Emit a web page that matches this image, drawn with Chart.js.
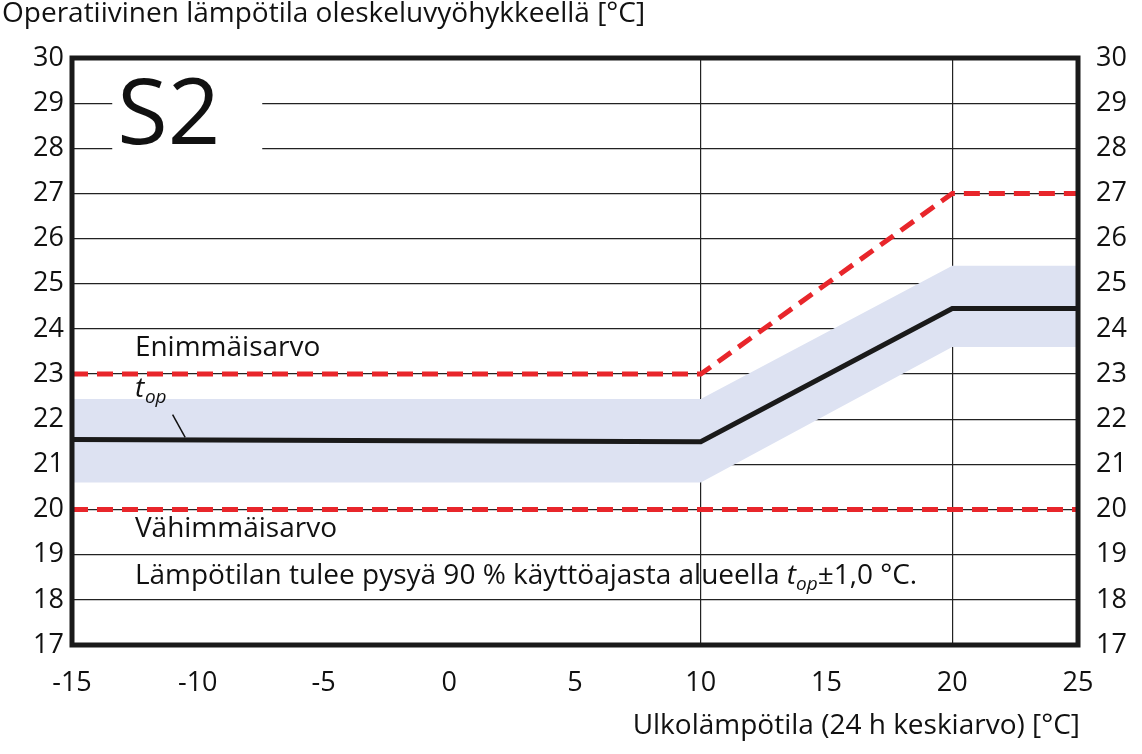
<!DOCTYPE html>
<html><head><meta charset="utf-8">
<script src="https://cdn.jsdelivr.net/npm/chart.js@4"></script>
<style>html,body{margin:0;background:#fff}#wrap{width:1142px;height:754px}</style>
</head><body><div id="wrap"><canvas id="c"></canvas></div>
<script>
/* ===== DATA ===== */
const outdoorX   = [-15, 10, 20, 25];
const topValues  = [21.55, 21.5, 24.45, 24.45];
const bandUpper  = [22.45, 22.45, 25.4, 25.4];
const bandLower  = [20.6, 20.6, 23.6, 23.6];
const maxValues  = [23, 23, 27, 27];
const minValues  = [20, 20, 20, 20];
const gridXLines = [10, 20];

const FONT = "'Open Sans', sans-serif";
const pts = arr => arr.map((y, i) => ({ x: outdoorX[i], y }));

/* ===== TEXT / FRAME PLUGIN ===== */
const deco = {
  id: "deco",
  afterDatasetsDraw(chart) {
    const { ctx, chartArea: a, scales: { x, y } } = chart;
    ctx.save();
    // S2 label box
    ctx.fillStyle = "#fff";
    ctx.fillRect(x.getPixelForValue(-13.4), y.getPixelForValue(29.9), 150, 90);
    ctx.fillStyle = "#111";
    ctx.font = "92px " + FONT;
    ctx.textBaseline = "alphabetic";
    ctx.fillText("S2", x.getPixelForValue(-13.2), y.getPixelForValue(28.1));

    ctx.font = "28px " + FONT;
    ctx.fillText("Enimmäisarvo", x.getPixelForValue(-12.5), y.getPixelForValue(23.4));
    ctx.fillText("Vähimmäisarvo", x.getPixelForValue(-12.5), y.getPixelForValue(19.4));

    // t_op label + leader
    ctx.font = "italic 28px " + FONT;
    ctx.fillText("t", x.getPixelForValue(-12.5), y.getPixelForValue(22.5));
    ctx.font = "italic 19px " + FONT;
    ctx.fillText("op", x.getPixelForValue(-12.5) + 10, y.getPixelForValue(22.35));
    ctx.strokeStyle = "#111"; ctx.lineWidth = 1.5;
    ctx.beginPath();
    ctx.moveTo(x.getPixelForValue(-11.0), y.getPixelForValue(22.1));
    ctx.lineTo(x.getPixelForValue(-10.5), y.getPixelForValue(21.6));
    ctx.stroke();

    // note line
    let px = x.getPixelForValue(-12.5), py = y.getPixelForValue(18.35);
    const parts = [
      ["28px", "Lämpötilan tulee pysyä 90 % käyttöajasta alueella ", 0],
      ["italic 28px", "t", 0],
      ["italic 19px", "op", 6],
      ["28px", "±1,0 °C.", 0]
    ];
    parts.forEach(([f, t, dy]) => {
      ctx.font = f + " " + FONT;
      ctx.fillText(t, px, py + dy);
      px += ctx.measureText(t).width;
    });

    // frame
    ctx.strokeStyle = "#1a1a1a"; ctx.lineWidth = 5;
    ctx.strokeRect(a.left, a.top, a.right - a.left, a.bottom - a.top);

    // titles
    ctx.font = "28px " + FONT;
    ctx.fillStyle = "#111";
    ctx.textAlign = "left"; ctx.textBaseline = "top";
    ctx.fillText("Operatiivinen lämpötila oleskeluvyöhykkeellä [°C]", 2, 0);
    ctx.textAlign = "right"; ctx.textBaseline = "alphabetic";
    ctx.fillText("Ulkolämpötila (24 h keskiarvo) [°C]", 1080, 734);
    ctx.restore();
  }
};

const tickFont = { family: FONT, size: 27 };
const yTicks = { stepSize: 1, color: "#111", font: tickFont, padding: 8 };

new Chart(document.getElementById("c"), {
  type: "line",
  data: {
    datasets: [
      { data: pts(topValues), borderColor: "#1a1a1a", borderWidth: 5, order: 1, pointRadius: 0 },
      { data: pts(maxValues), borderColor: "#e8262b", borderWidth: 5, borderDash: [16, 9], order: 2, pointRadius: 0 },
      { data: pts(minValues), borderColor: "#e8262b", borderWidth: 5, borderDash: [16, 9], order: 2, pointRadius: 0 },
      { data: pts(bandUpper), borderWidth: 0, backgroundColor: "#dde2f2", fill: "+1", order: 5, pointRadius: 0 },
      { data: pts(bandLower), borderWidth: 0, order: 5, pointRadius: 0 }
    ]
  },
  options: {
    responsive: true, maintainAspectRatio: false, animation: false,
    layout: { padding: { top: 58, left: 0, right: 0, bottom: 0 } },
    plugins: { legend: { display: false }, tooltip: { enabled: false } },
    scales: {
      x: {
        type: "linear", min: -15, max: 25,
        ticks: { stepSize: 5, color: "#111", font: tickFont, padding: 22 },
        grid: {
          color: c => gridXLines.includes(c.tick.value) ? "#222" : "rgba(0,0,0,0)",
          lineWidth: 1.2, drawTicks: false
        },
        border: { display: false },
        afterFit: s => { s.height = 109; }
      },
      y: {
        position: "left", min: 17, max: 30, ticks: yTicks,
        grid: { color: "#222", lineWidth: 1.2, drawTicks: false },
        border: { display: false },
        afterFit: s => { s.width = 72; }
      },
      y2: {
        position: "right", min: 17, max: 30,
        ticks: { ...yTicks, padding: 10 },
        grid: { display: false }, border: { display: false },
        afterFit: s => { s.width = 64; }
      }
    }
  },
  plugins: [deco]
});
</script></body></html>
